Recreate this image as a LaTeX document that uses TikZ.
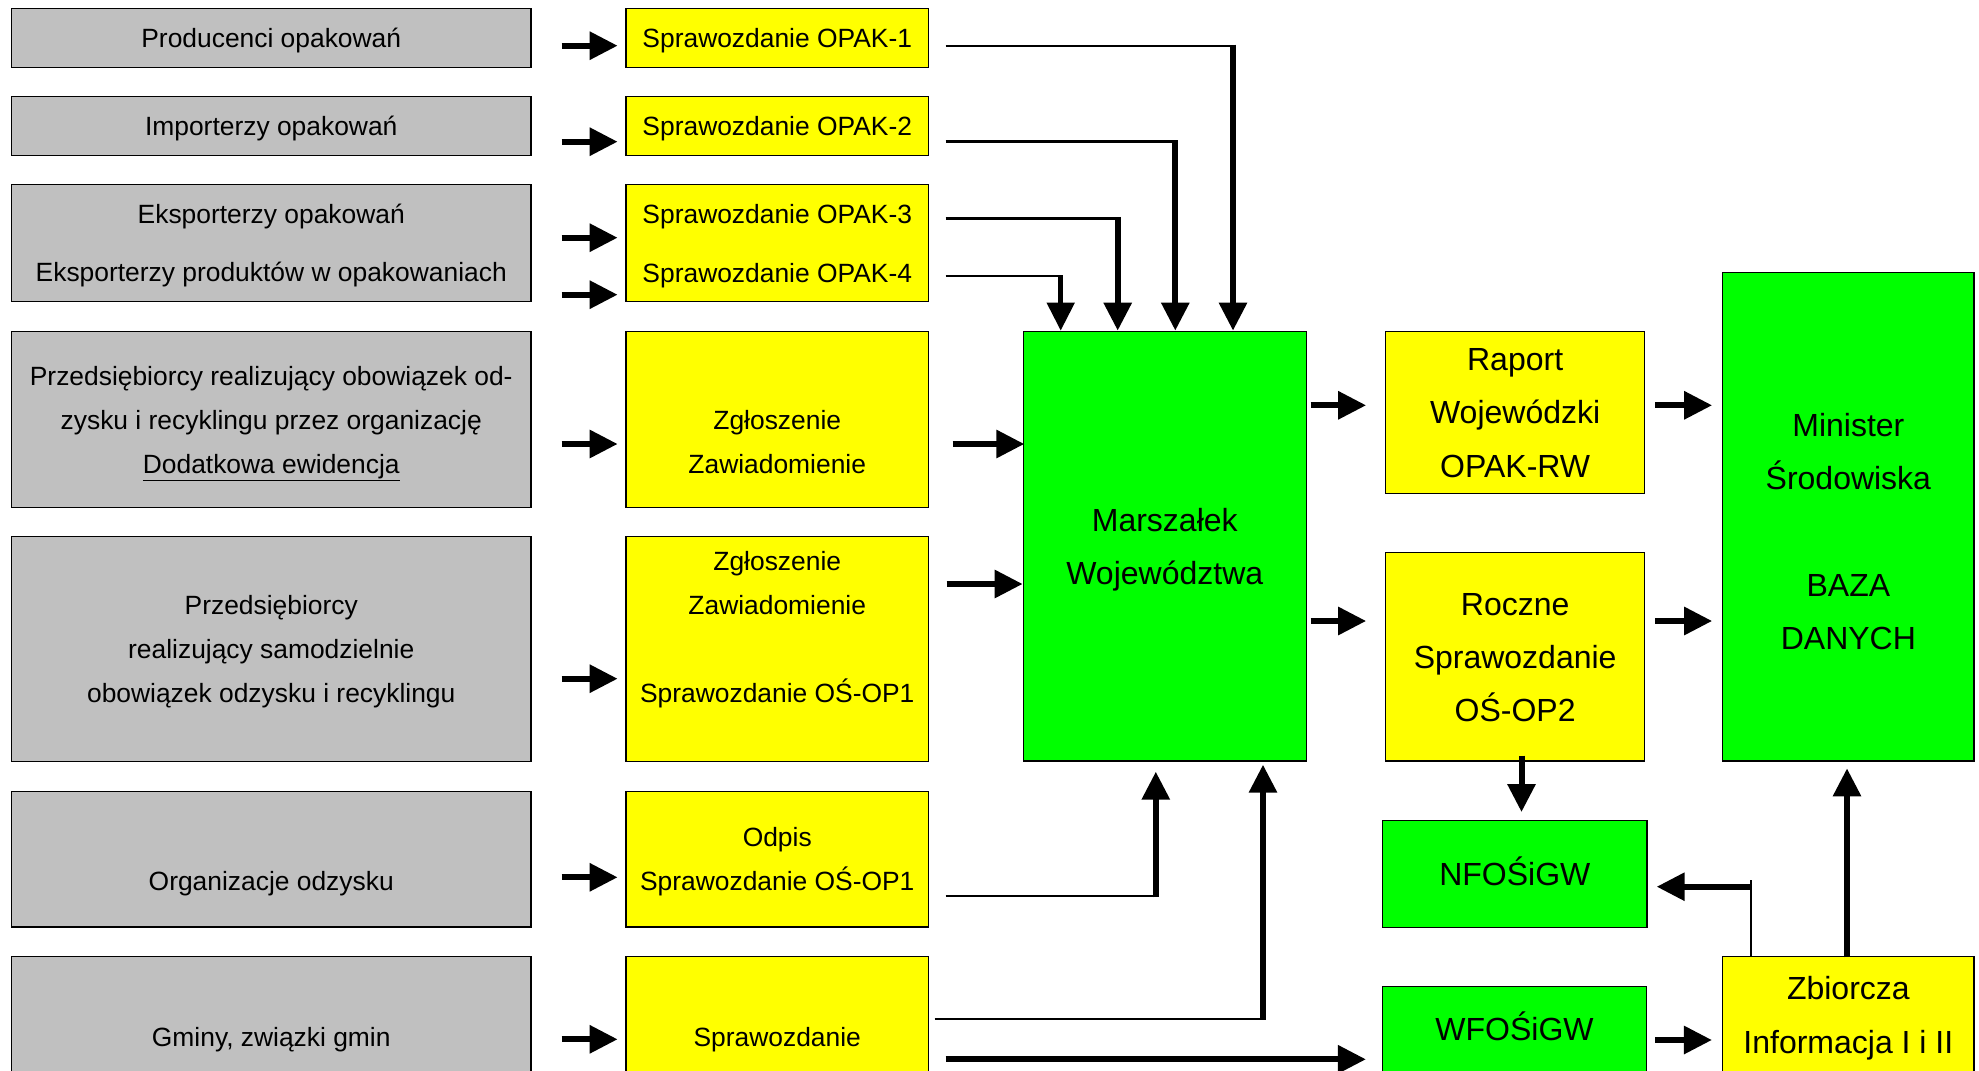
\documentclass[tikz,border=0pt]{standalone}
\usepackage{fontspec}
\setmainfont{Liberation Sans}
\usetikzlibrary{arrows.meta}
\definecolor{boxgrey}{RGB}{192,192,192}
\definecolor{boxyellow}{RGB}{255,255,0}
\definecolor{boxgreen}{RGB}{0,255,0}
\newcommand\smstrut{\rule[-12.5pt]{0pt}{44pt}}
\newcommand\bgstrut{\rule[-15.1pt]{0pt}{53.3pt}}
\begin{document}
\begin{tikzpicture}[x=1pt,y=-1pt,
  box/.style={draw=black, line width=1.3pt, inner sep=0pt, align=center, anchor=center,
    font=\fontsize{26.4pt}{44pt}\selectfont},
  bigbox/.style={box, font=\fontsize{32pt}{53.3pt}\selectfont},
  greybox/.style={box, fill=boxgrey, minimum width=519.5pt},
  yelbox/.style={box, fill=boxyellow, minimum width=302.5pt},
  bigarr/.style={line width=6pt, -{Triangle[width=27pt,length=28pt]}},
  thinl/.style={line width=2.7pt},
  hairl/.style={line width=1.5pt}]
\useasboundingbox (0,0) rectangle (1979,1071);
\clip (0,0) rectangle (1979,1071);
\fill[white] (0,0) rectangle (1979,1071);

% left column
\node[greybox, minimum height=59pt] (g1) at (271.25,37.8) {\smstrut Producenci opakowań};
\node[greybox, minimum height=58.6pt] (g2) at (271.25,126) {\smstrut Importerzy opakowań};
\node[greybox, minimum height=117.4pt] (g3) at (271.25,243) {\smstrut Eksporterzy opakowań\\[14pt]\smstrut Eksporterzy produktów w opakowaniach};
\node[greybox, minimum height=175.6pt] (g4) at (271.25,419.5) {\smstrut Przedsiębiorcy realizujący obowiązek od-\\\smstrut zysku i recyklingu przez organizację\\\smstrut\underline{Dodatkowa ewidencja}};
\node[greybox, minimum height=224.6pt] (g5) at (271.25,649) {\smstrut Przedsiębiorcy\\\smstrut realizujący samodzielnie\\\smstrut obowiązek odzysku i recyklingu};
\node[greybox, minimum height=135.3pt] (g6) at (271.25,859.3) {\smstrut\\\smstrut Organizacje odzysku};
\node[greybox, minimum height=161.3pt] (g7) at (271.25,1037.3) {\smstrut Gminy, związki gmin};

% yellow column
\node[yelbox, minimum height=59pt] (y1) at (777.25,37.8) {\smstrut Sprawozdanie OPAK-1};
\node[yelbox, minimum height=58.6pt] (y2) at (777.25,126) {\smstrut Sprawozdanie OPAK-2};
\node[yelbox, minimum height=117.4pt] (y3) at (777.25,243) {\smstrut Sprawozdanie OPAK-3\\[15pt]\smstrut Sprawozdanie OPAK-4};
\node[yelbox, minimum height=175.6pt] (y4) at (777.25,419.5) {\smstrut\\\smstrut Zgłoszenie\\\smstrut Zawiadomienie};
\node[yelbox, minimum height=224.6pt] (y5) at (777.25,649) {\smstrut Zgłoszenie\\\smstrut Zawiadomienie\\\smstrut\\\smstrut Sprawozdanie OŚ-OP1\\\smstrut};
\node[yelbox, minimum height=135.3pt] (y6) at (777.25,859.3) {\smstrut Odpis\\\smstrut Sprawozdanie OŚ-OP1};
\node[yelbox, minimum height=161.3pt] (y7) at (777.25,1037.3) {\smstrut Sprawozdanie};

% right part
\node[bigbox, fill=boxgreen, minimum width=282.9pt, minimum height=429.7pt] (marsz) at (1164.75,546.15) {\bgstrut Marszałek\\\bgstrut Województwa};
\node[bigbox, fill=boxyellow, minimum width=258.7pt, minimum height=162pt] (raport) at (1515.15,412.3) {\bgstrut Raport\\\bgstrut Wojewódzki\\\bgstrut OPAK-RW};
\node[bigbox, fill=boxyellow, minimum width=258.7pt, minimum height=208.3pt] (roczne) at (1515.15,656.85) {\bgstrut Roczne\\\bgstrut Sprawozdanie\\\bgstrut OŚ-OP2};
\node[bigbox, fill=boxgreen, minimum width=251.1pt, minimum height=488.7pt] (minister) at (1848.35,516.65) {\rule[-15.1pt]{0pt}{83.3pt}Minister\\\bgstrut Środowiska\\\bgstrut\\\bgstrut BAZA\\\bgstrut DANYCH};
\node[bigbox, fill=boxgreen, minimum width=264.4pt, minimum height=107pt] (nfos) at (1514.8,873.8) {\bgstrut NFOŚiGW};
\node[bigbox, fill=boxgreen, minimum width=263.8pt, minimum height=85.3pt] (wfos) at (1514.5,1029.35) {\bgstrut WFOŚiGW};
\node[bigbox, fill=boxyellow, minimum width=251.1pt, minimum height=117.4pt] (zb) at (1848.35,1015) {\bgstrut Zbiorcza\\\bgstrut Informacja I i II};

% arrows grey -> yellow
\draw[bigarr, shorten <=30pt, shorten >=7.7pt] (g1.east |- 0,45.7) -- (y1.west |- 0,45.7);
\draw[bigarr, shorten <=30pt, shorten >=7.7pt] (g2.east |- 0,141.7) -- (y2.west |- 0,141.7);
\draw[bigarr, shorten <=30pt, shorten >=7.7pt] (g3.east |- 0,237.7) -- (y3.west |- 0,237.7);
\draw[bigarr, shorten <=30pt, shorten >=7.7pt] (g3.east |- 0,294.7) -- (y3.west |- 0,294.7);
\draw[bigarr, shorten <=30pt, shorten >=7.7pt] (g4.east |- 0,444) -- (y4.west |- 0,444);
\draw[bigarr, shorten <=30pt, shorten >=7.7pt] (g5.east |- 0,678.7) -- (y5.west |- 0,678.7);
\draw[bigarr, shorten <=30pt, shorten >=7.7pt] (g6.east |- 0,877.3) -- (y6.west |- 0,877.3);
\draw[bigarr, shorten <=30pt, shorten >=7.7pt] (g7.east |- 0,1039.3) -- (y7.west |- 0,1039.3);

% OPAK reports -> Marszalek
\coordinate (c1) at (1233,46);
\coordinate (c2) at (1175.3,141.7);
\coordinate (c3) at (1117.7,218.3);
\coordinate (c4) at (1060.7,276);
\draw[thinl, shorten <=16.5pt] (y1.east |- c1) -- (c1);
\draw[thinl, shorten <=16.5pt] (y2.east |- c2) -- (c2);
\draw[thinl, shorten <=16.5pt] (y3.east |- c3) -- (c3);
\draw[hairl, shorten <=16.5pt] (y3.east |- c4) -- (c4);
\draw[bigarr, shorten <=-1.35pt] (c1) -- (c1 |- marsz.north);
\draw[bigarr, shorten <=-1.35pt] (c2) -- (c2 |- marsz.north);
\draw[bigarr, shorten <=-1.35pt] (c3) -- (c3 |- marsz.north);
\draw[bigarr, line width=5pt, shorten <=-1pt] (c4) -- (c4 |- marsz.north);

% Zgloszenie -> Marszalek
\draw[bigarr, shorten <=23.5pt, shorten >=-1.7pt] (y4.east |- 0,444) -- (marsz.west |- 0,444);
\draw[bigarr, shorten <=17.5pt] (y5.east |- 0,584) -- (marsz.west |- 0,584);

% Odpis -> Marszalek
\coordinate (c6) at (1155.8,896);
\draw[thinl, shorten <=16.5pt] (y6.east |- c6) -- (c6);
\draw[bigarr, shorten <=-1.35pt, shorten >=10pt] (c6) -- (c6 |- marsz.south);

% Sprawozdanie (gminy) -> Marszalek, WFOSiGW
\coordinate (c7) at (1263,1019);
\draw[hairl, shorten <=5.5pt] (y7.east |- c7) -- (c7);
\draw[bigarr, shorten <=-0.75pt, shorten >=3pt] (c7) -- (c7 |- marsz.south);
\draw[bigarr, shorten <=16.5pt, shorten >=16pt] (y7.east |- 0,1059.3) -- (wfos.west |- 0,1059.3);

% Marszalek -> reports
\draw[bigarr, shorten <=3.8pt, shorten >=19pt] (marsz.east |- 0,405.3) -- (raport.west |- 0,405.3);
\draw[bigarr, shorten <=3.8pt, shorten >=19pt] (marsz.east |- 0,621) -- (roczne.west |- 0,621);

% reports -> Minister
\draw[bigarr, shorten <=10pt, shorten >=10pt] (raport.east |- 0,405.3) -- (minister.west |- 0,405.3);
\draw[bigarr, shorten <=10pt, shorten >=10pt] (roczne.east |- 0,621) -- (minister.west |- 0,621);

% Roczne -> NFOSiGW
\draw[bigarr, shorten <=-6pt, shorten >=7.6pt] (1521.5,0 |- roczne.south) -- (1521.5,0 |- nfos.north);

% Zbiorcza -> NFOSiGW
\coordinate (c8) at (1751,886.7);
\draw[hairl] (1751,0 |- zb.north) -- (1751,880);
\draw[bigarr, shorten >=9pt] (c8) -- (nfos.east |- c8);

% WFOSiGW -> Zbiorcza
\draw[bigarr, shorten <=8.2pt, shorten >=10.2pt] (wfos.east |- 0,1040) -- (zb.west |- 0,1040);

% Zbiorcza -> Minister
\draw[bigarr, shorten <=-1.7pt, shorten >=6.7pt] (1847,0 |- zb.north) -- (1847,0 |- minister.south);
\end{tikzpicture}
\end{document}
